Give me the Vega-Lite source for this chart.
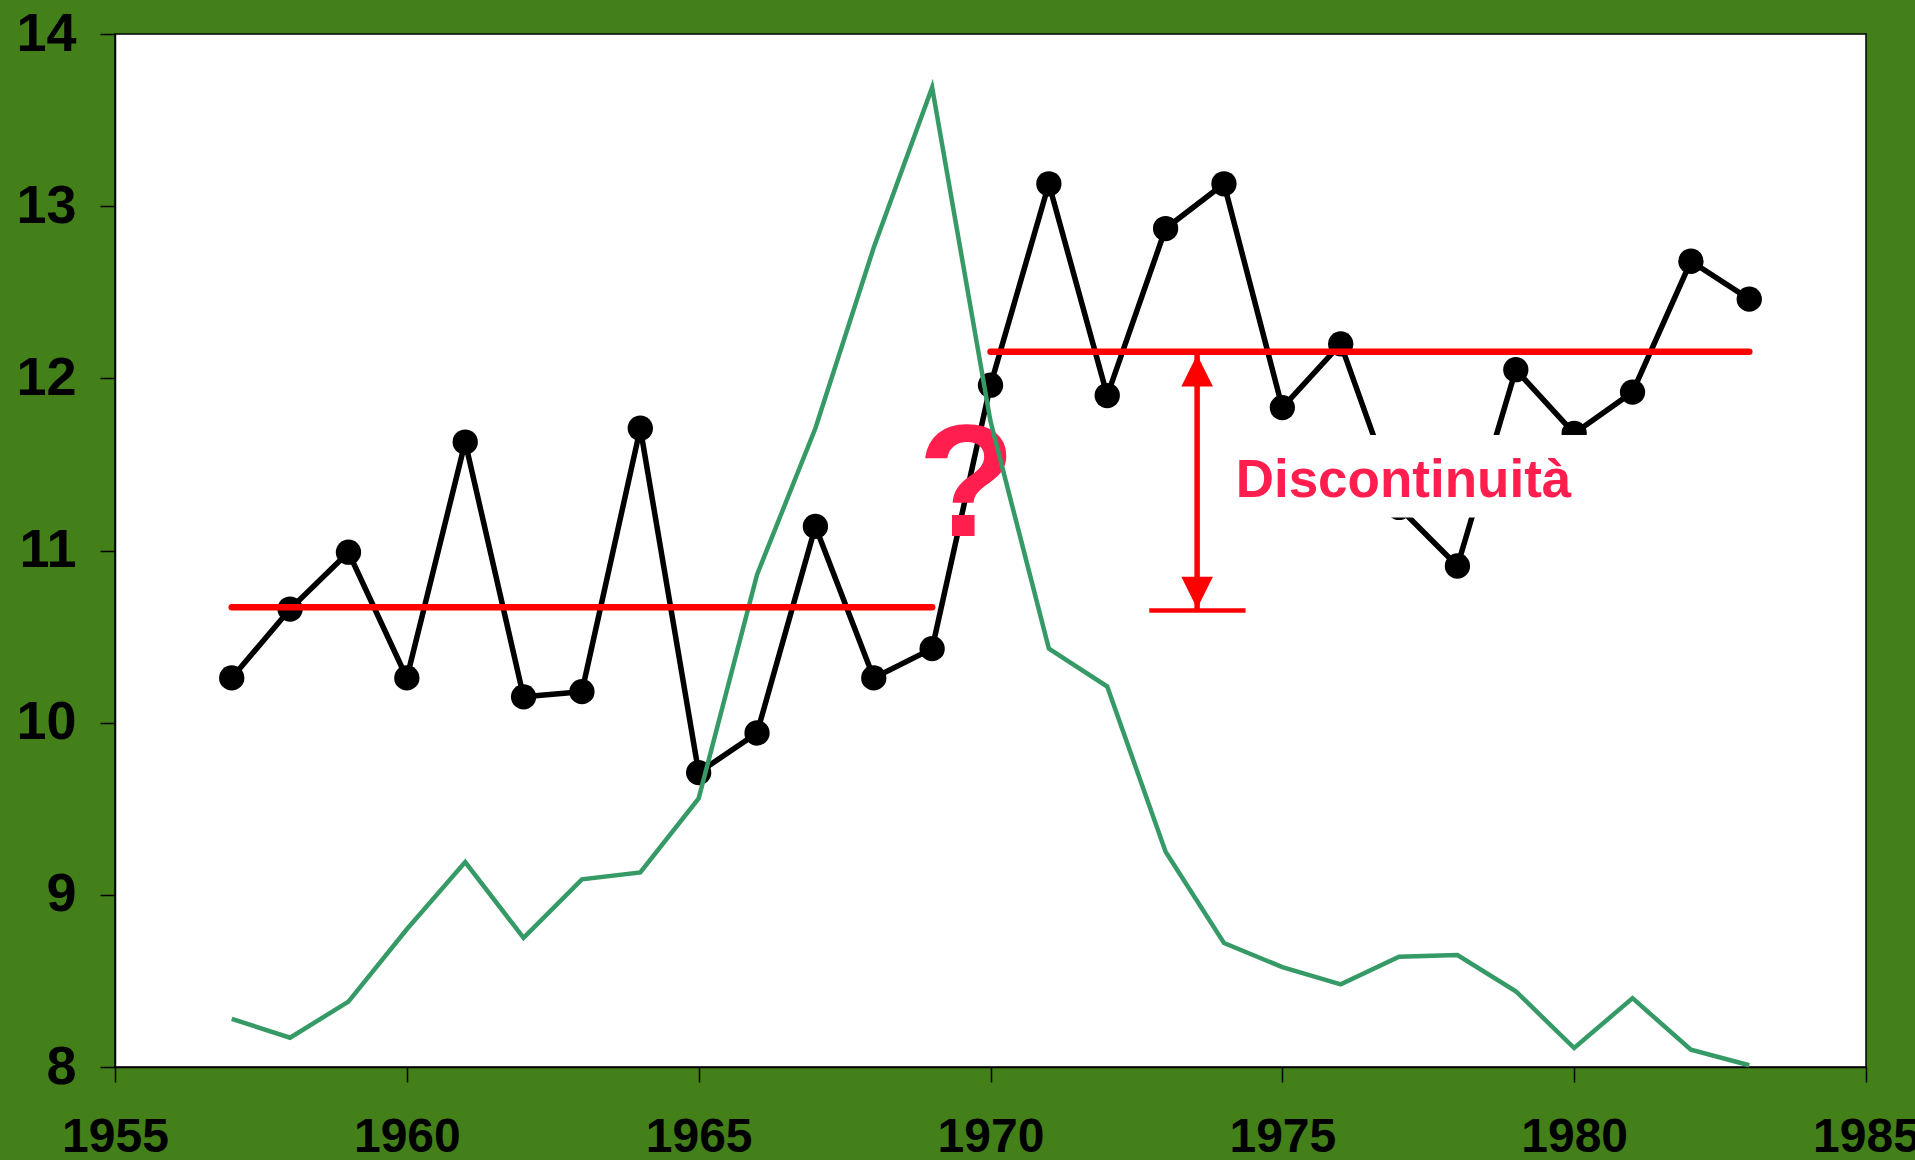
{
  "$schema": "https://vega.github.io/schema/vega-lite/v6.json",
  "width": 1751,
  "height": 1033,
  "autosize": {"type": "none"},
  "padding": {"left": 115, "top": 34, "right": 49, "bottom": 93},
  "background": "#43801a",
  "config": {
    "view": {"stroke": "#000000", "strokeWidth": 1.5, "fill": "#ffffff"},
    "axis": {
      "grid": false,
      "domainColor": "#000000",
      "domainWidth": 1.5,
      "tickColor": "#000000",
      "tickWidth": 1.5,
      "tickSize": 15,
      "labelColor": "#000000",
      "labelFont": "Liberation Sans",
      "labelFontWeight": "bold",
      "labelFlush": false,
      "labelOverlap": false,
      "title": null
    }
  },
  "datasets": {
    "black": [
      {"year": 1957, "value": 10.26}, {"year": 1958, "value": 10.66}, {"year": 1959, "value": 10.99},
      {"year": 1960, "value": 10.26}, {"year": 1961, "value": 11.63}, {"year": 1962, "value": 10.15},
      {"year": 1963, "value": 10.18}, {"year": 1964, "value": 11.71}, {"year": 1965, "value": 9.71},
      {"year": 1966, "value": 9.94}, {"year": 1967, "value": 11.14}, {"year": 1968, "value": 10.26},
      {"year": 1969, "value": 10.43}, {"year": 1970, "value": 11.96}, {"year": 1971, "value": 13.13},
      {"year": 1972, "value": 11.9}, {"year": 1973, "value": 12.87}, {"year": 1974, "value": 13.13},
      {"year": 1975, "value": 11.83}, {"year": 1976, "value": 12.2}, {"year": 1977, "value": 11.25},
      {"year": 1978, "value": 10.91}, {"year": 1979, "value": 12.05}, {"year": 1980, "value": 11.68},
      {"year": 1981, "value": 11.92}, {"year": 1982, "value": 12.68}, {"year": 1983, "value": 12.46}
    ],
    "green": [
      {"year": 1957, "value": 8.28}, {"year": 1958, "value": 8.17}, {"year": 1959, "value": 8.38},
      {"year": 1960, "value": 8.8}, {"year": 1961, "value": 9.19}, {"year": 1962, "value": 8.75},
      {"year": 1963, "value": 9.09}, {"year": 1964, "value": 9.13}, {"year": 1965, "value": 9.56},
      {"year": 1966, "value": 10.86}, {"year": 1967, "value": 11.71}, {"year": 1968, "value": 12.76},
      {"year": 1969, "value": 13.69}, {"year": 1970, "value": 11.75}, {"year": 1971, "value": 10.43},
      {"year": 1972, "value": 10.21}, {"year": 1973, "value": 9.25}, {"year": 1974, "value": 8.72},
      {"year": 1975, "value": 8.58}, {"year": 1976, "value": 8.48}, {"year": 1977, "value": 8.64},
      {"year": 1978, "value": 8.65}, {"year": 1979, "value": 8.44}, {"year": 1980, "value": 8.11},
      {"year": 1981, "value": 8.4}, {"year": 1982, "value": 8.1}, {"year": 1983, "value": 8.01}
    ],
    "means": [
      {"year": 1957, "year2": 1969, "value": 10.67},
      {"year": 1970, "year2": 1983, "value": 12.155}
    ],
    "arrowLine": [{"year": 1973.54, "value": 12.155, "value2": 10.651}],
    "baseLine": [{"year": 1972.72, "year2": 1974.37, "value": 10.651}],
    "arrowUp": [{"year": 1973.54, "value": 12.155}],
    "arrowDown": [{"year": 1973.54, "value": 10.651}],
    "box": [{"year": 1974.0, "year2": 1980.4, "value": 11.191, "value2": 11.671}],
    "question": [{"year": 1969.59, "value": 11.085, "label": "?"}],
    "disc": [{"year": 1974.2, "value": 11.313, "label": "Discontinuità"}]
  },
  "layer": [
    {
      "data": {"name": "black"},
      "mark": {"type": "line", "color": "#000000", "strokeWidth": 5.5},
      "encoding": {
        "x": {"field": "year", "type": "quantitative",
              "scale": {"domain": [1955, 1985], "nice": false, "zero": false},
              "axis": {"values": [1955, 1960, 1965, 1970, 1975, 1980, 1985], "format": "d", "labelFontSize": 48, "labelPadding": 31}},
        "y": {"field": "value", "type": "quantitative",
              "scale": {"domain": [8, 14], "nice": false, "zero": false},
              "axis": {"values": [8, 9, 10, 11, 12, 13, 14], "format": "d", "labelFontSize": 54, "labelPadding": 24}}
      }
    },
    {
      "data": {"name": "black"},
      "mark": {"type": "circle", "color": "#000000", "opacity": 1, "size": 640},
      "encoding": {
        "x": {"field": "year", "type": "quantitative"},
        "y": {"field": "value", "type": "quantitative"}
      }
    },
    {
      "data": {"name": "question"},
      "mark": {"type": "text", "font": "Liberation Sans", "fontWeight": "bold", "fontSize": 160, "color": "#ff1e4e", "align": "center", "baseline": "alphabetic"},
      "encoding": {
        "x": {"field": "year", "type": "quantitative"},
        "y": {"field": "value", "type": "quantitative"},
        "text": {"field": "label"}
      }
    },
    {
      "data": {"name": "green"},
      "mark": {"type": "line", "color": "#359a66", "strokeWidth": 4.5},
      "encoding": {
        "x": {"field": "year", "type": "quantitative"},
        "y": {"field": "value", "type": "quantitative"}
      }
    },
    {
      "data": {"name": "means"},
      "mark": {"type": "rule", "color": "#ff0000", "strokeWidth": 6.5, "strokeCap": "round"},
      "encoding": {
        "x": {"field": "year", "type": "quantitative"},
        "x2": {"field": "year2"},
        "y": {"field": "value", "type": "quantitative"}
      }
    },
    {
      "data": {"name": "box"},
      "mark": {"type": "rect", "color": "#ffffff", "opacity": 1},
      "encoding": {
        "x": {"field": "year", "type": "quantitative"},
        "x2": {"field": "year2"},
        "y": {"field": "value", "type": "quantitative"},
        "y2": {"field": "value2"}
      }
    },
    {
      "data": {"name": "disc"},
      "mark": {"type": "text", "font": "Liberation Sans", "fontWeight": "bold", "fontSize": 53, "color": "#ff1e4e", "align": "left", "baseline": "alphabetic"},
      "encoding": {
        "x": {"field": "year", "type": "quantitative"},
        "y": {"field": "value", "type": "quantitative"},
        "text": {"field": "label"}
      }
    },
    {
      "data": {"name": "arrowLine"},
      "mark": {"type": "rule", "color": "#ff0000", "strokeWidth": 5.5},
      "encoding": {
        "x": {"field": "year", "type": "quantitative"},
        "y": {"field": "value", "type": "quantitative"},
        "y2": {"field": "value2"}
      }
    },
    {
      "data": {"name": "baseLine"},
      "mark": {"type": "rule", "color": "#ff0000", "strokeWidth": 4.5},
      "encoding": {
        "x": {"field": "year", "type": "quantitative"},
        "x2": {"field": "year2"},
        "y": {"field": "value", "type": "quantitative"}
      }
    },
    {
      "data": {"name": "arrowUp"},
      "mark": {"type": "point", "shape": "M0,-1L-1,1L1,1Z", "filled": true, "color": "#ff0000", "opacity": 1, "size": 1000, "yOffset": 19},
      "encoding": {
        "x": {"field": "year", "type": "quantitative"},
        "y": {"field": "value", "type": "quantitative"}
      }
    },
    {
      "data": {"name": "arrowDown"},
      "mark": {"type": "point", "shape": "M0,1L-1,-1L1,-1Z", "filled": true, "color": "#ff0000", "opacity": 1, "size": 1000, "yOffset": -18},
      "encoding": {
        "x": {"field": "year", "type": "quantitative"},
        "y": {"field": "value", "type": "quantitative"}
      }
    }
  ]
}
